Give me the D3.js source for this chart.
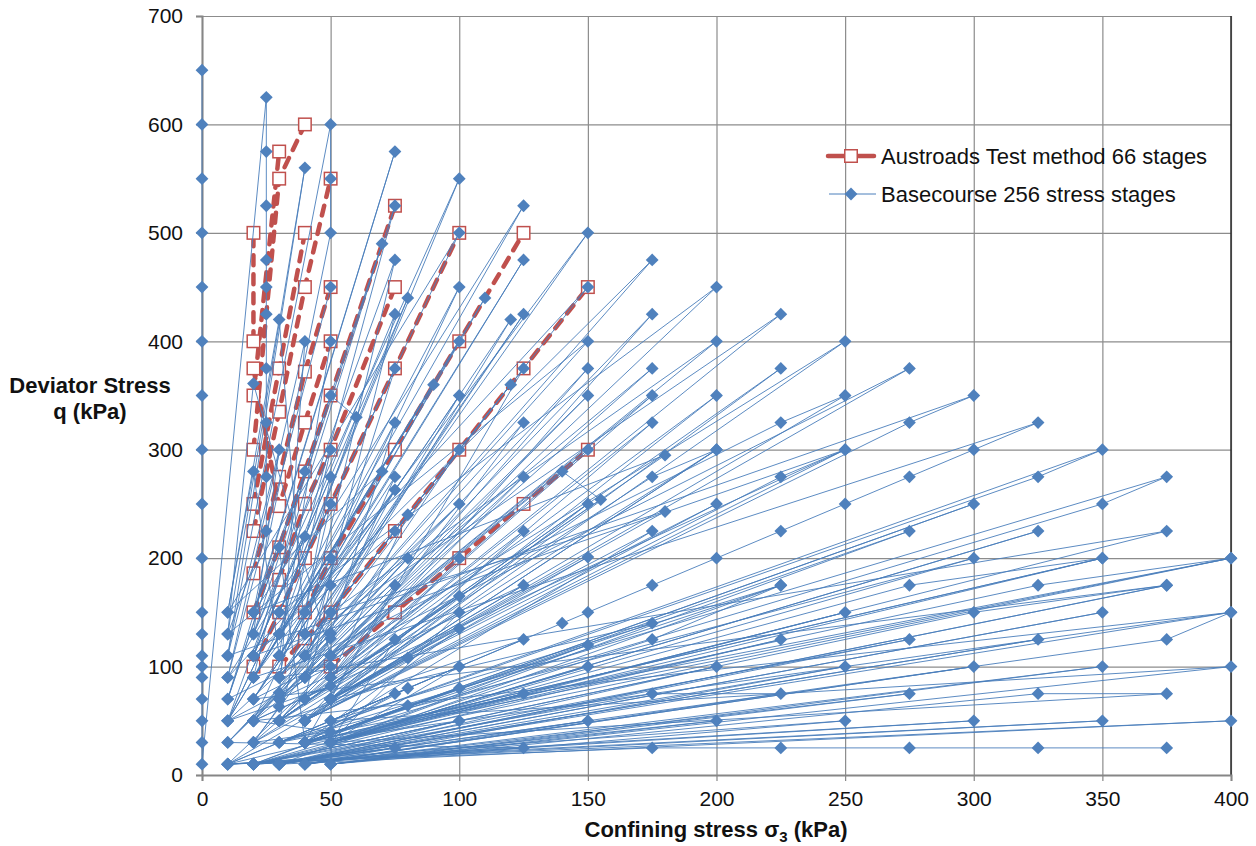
<!DOCTYPE html>
<html>
<head>
<meta charset="utf-8">
<script src="https://cdn.jsdelivr.net/npm/d3@7"></script>
<style>
  body { margin: 0; background: #fff; }
  svg text { font-family: "Liberation Sans", Arial, sans-serif; }
</style>
</head>
<body>
<svg id="chart" width="1256" height="846"></svg>
<script>
// Axis ticks
const xTicks = [0, 50, 100, 150, 200, 250, 300, 350, 400];
const yTicks = [0, 100, 200, 300, 400, 500, 600, 700];

const seriesNames = ["Austroads Test method 66 stages", "Basecourse 256 stress stages"];

// Austroads stress paths [sigma3, q]; null separates one path from the next
const austroadsStages = [
  [20,100],[30,150],[40,200],[50,250],[75,375],[100,500], null,
  [20,150],[30,210],[40,280],[50,350],[75,525], null,
  [20,186],[30,275],[40,372],[50,450], null,
  [20,225],[30,335],[40,450],[50,550], null,
  [20,250],[30,375],[40,500], null,
  [20,300],[30,550],[40,600], null,
  [20,350],[30,575], null,
  [30,100],[40,126],[50,150],[75,225],[100,300],[125,375],[150,450], null,
  [50,100],[75,150],[100,200],[125,250],[150,300], null,
  [30,180],[40,250],[50,300],[75,450], null,
  [20,375],[30,248],[40,325],[50,400], null,
  [40,150],[50,200],[75,300],[100,400],[125,500], null,
  [20,400],[20,500]
];

// Basecourse stress stages [sigma3, q] in test order
const basecourseStages = [
  [0,650],[0,600],[0,550],[0,500],[0,450],[0,400],[0,350],[0,300],[0,250],[0,200],
  [0,150],[0,130],[0,110],[0,100],[0,90],[0,70],[0,50],[0,30],[0,10],
  [25,625],[25,575],[25,525],[25,475],[25,450],[25,425],[25,375],[25,325],[25,275],[25,225],
  [10,130],[40,560],
  [10,110],[50,600],[50,550],[50,500],
  [20,150],[75,575],
  [10,70],[70,490],
  [20,110],[80,440],
  [30,150],[100,550],
  [20,130],[75,525],
  [30,130],[125,525],
  [10,90],[50,450],[50,400],
  [30,110],[110,440],
  [10,50],[75,475],
  [40,130],[150,500],
  [20,90],[100,450],
  [40,150],[125,475],
  [20,70],[120,420],
  [40,110],[175,475],
  [20,110],[75,425],
  [40,90],[200,450],
  [30,150],[100,500],
  [10,150],[30,420],
  [40,130],[125,425],
  [30,90],[150,450],
  [10,90],[40,400],
  [30,70],[175,425],
  [50,90],[225,425],
  [30,110],[100,400],
  [20,90],[90,360],
  [10,50],[75,375],
  [40,110],[150,400],
  [10,130],[20,361],
  [50,110],[200,400],
  [50,150],[125,375],
  [50,70],[250,400],
  [40,90],[175,375],
  [30,90],[120,360],
  [20,50],[150,375],
  [30,50],[225,375],
  [50,70],[275,375],
  [20,70],[100,350],
  [30,70],[150,350],
  [50,110],[175,350],
  [40,70],[200,350],
  [50,70],[250,350],[225,325],
  [10,70],[50,350],[60,330],
  [30,130],[75,325],
  [50,130],[125,325],
  [50,90],[175,325],
  [40,50],[275,325],[300,350],
  [10,110],[30,300],
  [20,130],[50,300],
  [30,90],[100,300],
  [40,90],[150,300],
  [20,30],[200,300],
  [40,50],[250,300],
  [20,50],[140,280],[155,254],
  [30,50],[180,295],
  [20,150],[40,280],
  [20,90],[70,280],
  [10,150],[20,280],
  [30,110],[75,275],
  [40,90],[125,275],
  [30,50],[175,275],[200,300],
  [40,50],[225,275],[250,300],
  [20,110],[50,275],
  [40,150],[75,263],
  [40,110],[100,250],
  [10,50],[50,250],
  [30,50],[150,250],
  [40,50],[200,250],
  [50,70],[180,243],
  [50,150],[80,240],
  [50,90],[125,225],
  [50,70],[175,225],
  [40,30],[275,225],
  [50,30],[325,225],
  [50,30],[375,225],
  [30,90],[75,225],
  [20,110],[40,220],
  [20,150],[30,210],
  [40,30],[300,250],
  [40,30],[350,250],[375,275],
  [30,30],[325,275],[350,300],
  [30,30],[300,200],
  [50,30],[350,200],
  [40,30],[400,200],
  [50,30],[275,175],[350,200],
  [40,30],[325,175],[400,200],
  [30,30],[140,140],[150,150],[175,175],[200,200],[225,225],[250,250],[275,275],[300,300],[325,325],
  [20,90],[50,200],
  [20,50],[80,200],
  [30,70],[100,200],
  [40,50],[150,201],
  [50,70],[125,175],
  [30,70],[75,175],
  [40,30],[225,175],
  [30,10],[375,175],
  [20,70],[50,175],
  [40,70],[100,165],
  [30,50],[100,150],
  [50,30],[250,150],
  [20,10],[300,150],[375,175],
  [30,10],[350,150],
  [30,10],[400,150],
  [40,30],[175,140],
  [50,70],[100,135],
  [40,30],[150,120],
  [50,30],[175,125],[225,175],
  [50,50],[125,125],
  [30,50],[75,125],
  [50,30],[225,125],
  [20,10],[275,125],
  [30,10],[325,125],
  [30,10],[375,125],[400,150],
  [20,50],[50,131],
  [10,30],[50,126],
  [20,30],[80,108],
  [10,10],[100,100],
  [50,30],[150,100],
  [20,10],[200,100],
  [30,10],[250,100],
  [40,10],[300,100],
  [40,10],[350,100],
  [50,10],[400,100],
  [50,50],[80,80],
  [40,30],[100,80],
  [20,10],[175,75],[225,75],
  [40,10],[275,75],
  [50,10],[325,75],[375,75],
  [50,30],[125,75],
  [10,10],[75,75],
  [40,30],[80,64],
  [20,10],[100,50],
  [30,10],[150,50],
  [40,10],[200,50],
  [50,10],[250,50],
  [10,10],[300,50],
  [20,10],[350,50],
  [10,10],[400,50],
  [30,10],[75,25],
  [20,10],[125,25],
  [10,30],[30,76],[30,63],
  [20,30],[50,40],
  [20,50],[50,82],
  [10,50],[50,100],
  [10,10],[175,25],[225,25],[275,25],[325,25],[375,25]
];

const svg = d3.select("#chart");

const x = d3.scaleLinear().domain([0, 400]).range([202, 1231]);
const y = d3.scaleLinear().domain([0, 700]).range([775, 16]);

const gridColor = "#8c8c8c";
const red = "#C0504D";
const blue = "#4F81BD";

// Gridlines
svg.append("g")
  .attr("transform", `translate(0,${y(0)})`)
  .call(d3.axisBottom(x).tickValues(xTicks).tickSize(-(y(0) - y(700))).tickFormat(""))
  .call(g => g.select(".domain").remove())
  .call(g => g.selectAll(".tick line").attr("stroke", gridColor).attr("stroke-width", 1.2));

svg.append("g")
  .attr("transform", `translate(${x(0)},0)`)
  .call(d3.axisLeft(y).tickValues(yTicks).tickSize(-(x(400) - x(0))).tickFormat(""))
  .call(g => g.select(".domain").remove())
  .call(g => g.selectAll(".tick line").attr("stroke", gridColor).attr("stroke-width", 1.2));

// Right border of plot area
svg.append("line")
  .attr("x1", x(400)).attr("x2", x(400))
  .attr("y1", y(700)).attr("y2", y(0))
  .attr("stroke", "#2b2b2b").attr("stroke-width", 1.5);

// Axes
const xAxis = svg.append("g")
  .attr("transform", `translate(0,${y(0)})`)
  .call(d3.axisBottom(x).tickValues(xTicks).tickSize(6).tickPadding(10));
const yAxis = svg.append("g")
  .attr("transform", `translate(${x(0)},0)`)
  .call(d3.axisLeft(y).tickValues(yTicks).tickSize(6).tickPadding(13));

[xAxis, yAxis].forEach(g => {
  g.select(".domain").attr("stroke", "#868686").attr("stroke-width", 2);
  g.selectAll(".tick line").attr("stroke", "#868686").attr("stroke-width", 1.2);
  g.selectAll(".tick text")
    .attr("font-size", 21)
    .attr("fill", "#111")
    .style("font-family", '"Liberation Sans", Arial, sans-serif');
});

// Austroads dashed stress paths
const line = d3.line()
  .defined(d => d !== null)
  .x(d => x(d[0]))
  .y(d => y(d[1]));

svg.append("path")
  .datum(austroadsStages)
  .attr("d", line)
  .attr("fill", "none")
  .attr("stroke", red)
  .attr("stroke-width", 4.5)
  .attr("stroke-linecap", "round")
  .attr("stroke-dasharray", "10,9");

const sq = 12.5;
svg.append("g").selectAll("rect")
  .data(austroadsStages.filter(d => d !== null))
  .join("rect")
  .attr("x", d => x(d[0]) - sq / 2)
  .attr("y", d => y(d[1]) - sq / 2)
  .attr("width", sq).attr("height", sq)
  .attr("fill", "#fff")
  .attr("stroke", red)
  .attr("stroke-width", 1.5);

// Basecourse stress stages
svg.append("path")
  .datum(basecourseStages)
  .attr("d", line)
  .attr("fill", "none")
  .attr("stroke", "#4A7EBB")
  .attr("stroke-width", 0.9);

const diamond = d3.symbol().type(d3.symbolSquare).size(82);
svg.append("g").selectAll("path")
  .data(basecourseStages)
  .join("path")
  .attr("d", diamond)
  .attr("transform", d => `translate(${x(d[0])},${y(d[1])}) rotate(45)`)
  .attr("fill", blue);

// Legend
const legend = svg.append("g");
legend.append("line")
  .attr("x1", 828).attr("x2", 874).attr("y1", 156).attr("y2", 156)
  .attr("stroke", red).attr("stroke-width", 4.5).attr("stroke-linecap", "round");
legend.append("rect")
  .attr("x", 851 - sq / 2).attr("y", 156 - sq / 2)
  .attr("width", sq).attr("height", sq)
  .attr("fill", "#fff").attr("stroke", red).attr("stroke-width", 1.5);
legend.append("text")
  .attr("x", 881).attr("y", 163.5)
  .attr("font-size", 22).attr("fill", "#111")
  .text(seriesNames[0]);

legend.append("line")
  .attr("x1", 829).attr("x2", 876).attr("y1", 194).attr("y2", 194)
  .attr("stroke", "#4A7EBB").attr("stroke-width", 1);
legend.append("path")
  .attr("d", diamond)
  .attr("transform", "translate(851,194) rotate(45)")
  .attr("fill", blue);
legend.append("text")
  .attr("x", 881).attr("y", 201.5)
  .attr("font-size", 22).attr("fill", "#111")
  .text(seriesNames[1]);

// Axis titles
const xTitle = svg.append("text")
  .attr("x", 716).attr("y", 837)
  .attr("text-anchor", "middle")
  .attr("font-size", 22).attr("font-weight", "bold").attr("fill", "#111");
xTitle.append("tspan").text("Confining stress σ");
xTitle.append("tspan").attr("font-size", 15).attr("dy", 5).text("3");
xTitle.append("tspan").attr("dy", -5).text(" (kPa)");

svg.append("text")
  .attr("x", 90).attr("y", 393)
  .attr("text-anchor", "middle")
  .attr("font-size", 22).attr("font-weight", "bold").attr("fill", "#111")
  .text("Deviator Stress");
svg.append("text")
  .attr("x", 90).attr("y", 419)
  .attr("text-anchor", "middle")
  .attr("font-size", 22).attr("font-weight", "bold").attr("fill", "#111")
  .text("q (kPa)");
</script>
</body>
</html>
